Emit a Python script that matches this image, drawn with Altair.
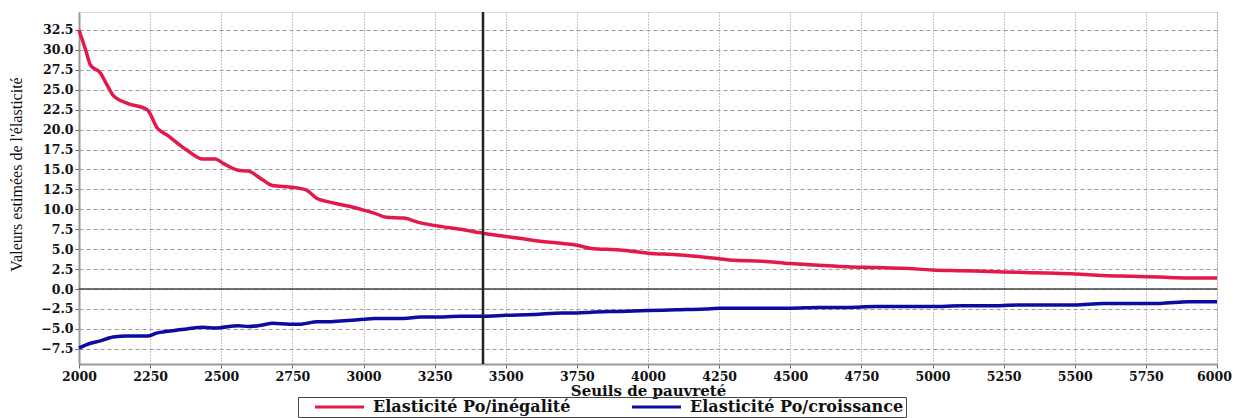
import altair as alt
import pandas as pd

seuils = [2000, 2025, 2040, 2075, 2100, 2120, 2170, 2240, 2275, 2310, 2380, 2435, 2480, 2505,
          2560, 2595, 2645, 2680, 2740, 2780, 2800, 2835, 2870, 2920, 2960, 3000, 3040, 3080,
          3140, 3200, 3280, 3340, 3420, 3500, 3600, 3700, 3750, 3800, 3900, 4000, 4100, 4200,
          4250, 4300, 4400, 4500, 4600, 4700, 4800, 4900, 5000, 5100, 5200, 5300, 5400, 5500,
          5600, 5700, 5800, 5900, 6000]
inegalite = [32.5, 29.8, 28.1, 27.1, 25.5, 24.3, 23.3, 22.5, 20.2, 19.3, 17.4, 16.3, 16.3, 15.8,
             14.9, 14.8, 13.7, 13.0, 12.8, 12.6, 12.4, 11.4, 11.0, 10.6, 10.3, 9.9, 9.5, 9.0,
             8.9, 8.3, 7.8, 7.5, 7.0, 6.6, 6.1, 5.7, 5.5, 5.1, 4.9, 4.5, 4.3, 4.0,
             3.8, 3.6, 3.5, 3.2, 3.0, 2.8, 2.7, 2.6, 2.4, 2.3, 2.2, 2.1, 2.0, 1.9,
             1.7, 1.6, 1.5, 1.4, 1.4]
croissance = [-7.4, -7.0, -6.8, -6.5, -6.2, -6.0, -5.9, -5.9, -5.5, -5.3, -5.0, -4.8, -4.9, -4.8,
              -4.6, -4.7, -4.5, -4.3, -4.4, -4.4, -4.3, -4.1, -4.1, -4.0, -3.9, -3.8, -3.7, -3.7,
              -3.7, -3.5, -3.5, -3.4, -3.4, -3.3, -3.2, -3.0, -3.0, -2.9, -2.8, -2.7, -2.6, -2.5,
              -2.4, -2.4, -2.4, -2.4, -2.3, -2.3, -2.2, -2.2, -2.2, -2.1, -2.1, -2.0, -2.0, -2.0,
              -1.8, -1.8, -1.8, -1.6, -1.6]
series_names = ["Elasticité Po/inégalité", "Elasticité Po/croissance"]
series_colors = ["#e3194b", "#0c0ca0"]
x_ticks = list(range(2000, 6001, 250))
y_ticks = [v * 2.5 for v in range(-3, 14)]
seuil_ref = [3420]
zero = [0]

rows = []
for s, a, b in zip(seuils, inegalite, croissance):
    rows.append({"seuil": s, "valeur": a, "serie": series_names[0]})
    rows.append({"seuil": s, "valeur": b, "serie": series_names[1]})
df = pd.DataFrame(rows)

xscale = alt.Scale(domain=[2000, 6000], nice=False, zero=False)
yscale = alt.Scale(domain=[-9.4, 34.75], nice=False, zero=False)

lab = dict(labelFont="DejaVu Serif", labelFontSize=12.5, labelFontWeight="bold",
           labelColor="#111", labelOverlap=False, labelFlush=False, labelBound=False,
           domainColor="#999", domainWidth=2, tickColor="#666", tickSize=4, labelPadding=2,
           titleColor="#111")

x_axis = alt.Axis(values=x_ticks, tickCount=len(x_ticks), format="d", title="Seuils de pauvreté",
                  grid=True, gridDash=[1, 2], gridColor="#888", gridOpacity=1,
                  labelOffset={"condition": {"test": "datum.value == 6000", "value": -3},
                               "value": 0},
                  titleX=569, titleY=26, titleBaseline="middle",
                  titleFont="DejaVu Serif", titleFontSize=15, titleFontWeight="bold", **lab)
y_axis = alt.Axis(values=y_ticks, tickCount=len(y_ticks), format=".1f",
                  title="Valeurs estimées de l'élasticité",
                  grid=True, gridDash=[4, 3], gridColor="#999", gridOpacity=1,
                  titleX=-63, titleY=162, titleAngle=270, titleBaseline="middle",
                  titleFont="Liberation Serif", titleFontSize=16, titleFontWeight="normal", **lab)

lines = alt.Chart(df).mark_line(strokeWidth=3.5, interpolate="monotone").encode(
    x=alt.X("seuil:Q", scale=xscale, axis=x_axis),
    y=alt.Y("valeur:Q", scale=yscale, axis=y_axis),
    color=alt.Color("serie:N", scale=alt.Scale(domain=series_names, range=series_colors),
                    sort=series_names,
                    legend=alt.Legend(title=None, orient="none", legendX=219, legendY=385,
                                      direction="horizontal", symbolType="M1.4,0H11.2",
                                      symbolSize=100, symbolStrokeWidth=3,
                                      labelFont="DejaVu Serif", labelFontSize=16,
                                      labelFontWeight="bold", labelColor="#111",
                                      labelLimit=500,
                                      columnPadding=46, labelOffset=57,
                                      strokeColor="#444", padding=2)),
    detail="serie:N",
)

zero_rule = alt.Chart(pd.DataFrame({"y": zero})).mark_rule(color="#444", strokeWidth=1.5).encode(
    y=alt.Y("y:Q", scale=yscale, axis=y_axis))
v_rule = alt.Chart(pd.DataFrame({"x": seuil_ref})).mark_rule(color="#222", strokeWidth=2.5).encode(
    x=alt.X("x:Q", scale=xscale, axis=x_axis))

chart = alt.layer(lines, zero_rule, v_rule).properties(
    width=1138, height=352,
    autosize=alt.AutoSizeParams(type="none"),
    padding={"left": 71, "top": 4, "right": 15, "bottom": 56},
).configure_view(stroke="#aaa", strokeWidth=2).configure(background="white")

chart.save("out.html", embed_options={"renderer": "svg", "actions": False})
